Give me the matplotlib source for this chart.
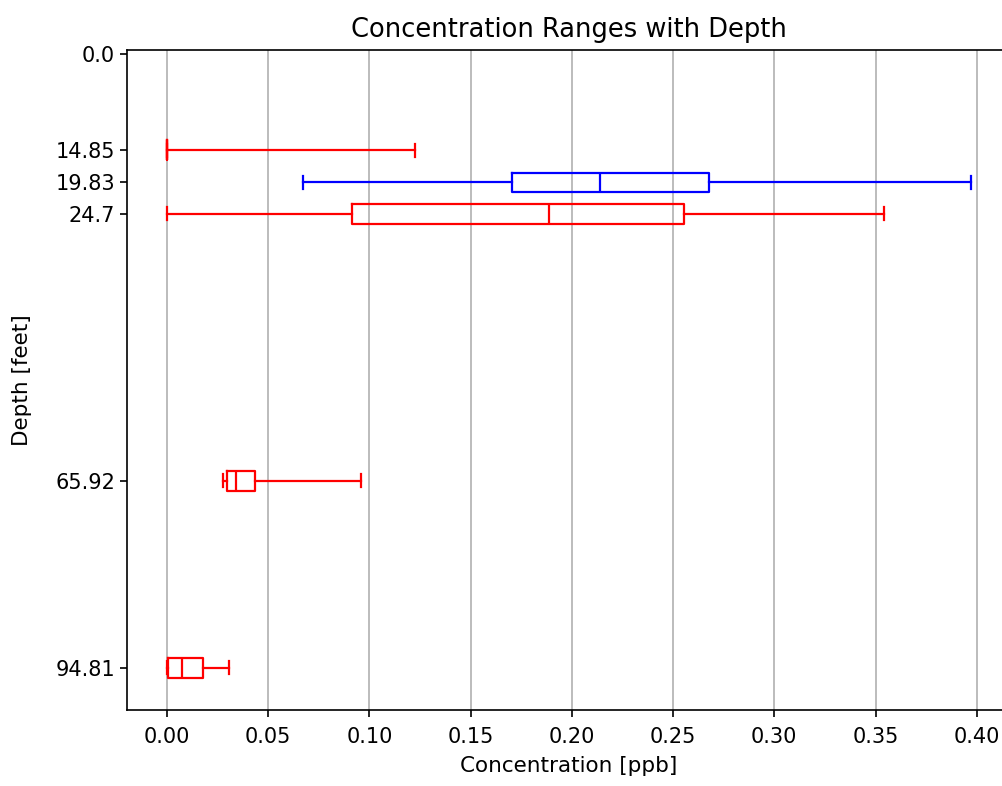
import matplotlib.pyplot as plt

# depth of each sample group [feet] and its box colour
depths = [14.85, 19.83, 24.7, 65.92, 94.81]
colors = ['red', 'blue', 'red', 'red', 'red']

# box statistics [ppb]
whislo = [0.0, 0.0672, 0.0, 0.0278, 0.0]
q1 = [0.0, 0.1704, 0.0914, 0.0294, 0.0005]
med = [0.0, 0.2138, 0.1887, 0.0341, 0.0076]
q3 = [0.0, 0.2677, 0.2555, 0.0436, 0.0180]
whishi = [0.1225, 0.397, 0.3543, 0.0957, 0.0306]

ytick_pos = [0.0] + depths
ytick_labels = ['0.0', '14.85', '19.83', '24.7', '65.92', '94.81']
xticks = [0.00, 0.05, 0.10, 0.15, 0.20, 0.25, 0.30, 0.35, 0.40]

dpi = 100
fig = plt.figure(dpi=dpi, figsize=(1002 / dpi, 786 / dpi))
ax = fig.add_axes([0.1267, 0.0967, 0.882, 0.8397])

for i in range(len(depths)):
    st = {'whislo': whislo[i], 'q1': q1[i], 'med': med[i],
          'q3': q3[i], 'whishi': whishi[i], 'fliers': []}
    c = colors[i]
    ax.bxp([st], positions=[depths[i]], widths=3, capwidths=2,
           orientation='horizontal', showfliers=False, manage_ticks=False,
           boxprops=dict(color=c, linewidth=1.6),
           whiskerprops=dict(color=c, linewidth=1.6),
           capprops=dict(color=c, linewidth=1.6),
           medianprops=dict(color=c, linewidth=1.6))

ax.set_xlim(-0.0198, 0.4168)
ax.set_ylim(101.3, -0.6)
ax.set_yticks(ytick_pos)
ax.set_yticklabels(ytick_labels)
ax.set_xticks(xticks)
ax.set_xticklabels(['%.2f' % v for v in xticks])
ax.tick_params(labelsize=15, length=5, width=1.2)
ax.tick_params(axis='x', pad=7)
for s in ax.spines.values():
    s.set_linewidth(1.2)

ax.grid(True, axis='x', color='#b0b0b0', linewidth=1.2)
ax.set_axisbelow(True)

ax.set_title('Concentration Ranges with Depth', fontsize=18.5, pad=9)
ax.set_xlabel('Concentration [ppb]', fontsize=15.5, labelpad=7)
ax.set_ylabel('Depth [feet]', fontsize=15.5)
ax.yaxis.set_label_coords(-0.107, 0.5)

fig.savefig('out.png', dpi=dpi)
